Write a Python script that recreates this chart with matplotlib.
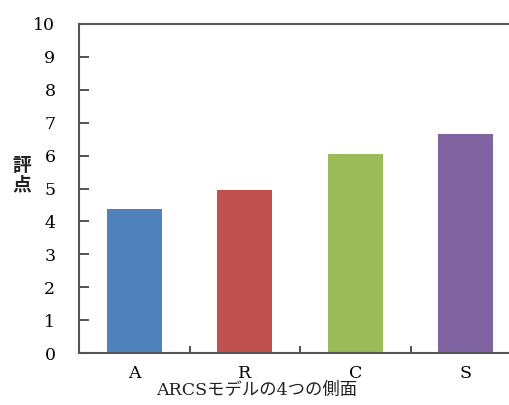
import matplotlib
matplotlib.use("Agg")
import matplotlib.pyplot as plt
from matplotlib.ticker import FixedLocator

categories = ["A", "R", "C", "S"]
values = [4.38, 4.96, 6.05, 6.66]
colors = ["#4F81BD", "#C0504D", "#9BBB59", "#8064A2"]
yticks = list(range(0, 11))
ylabel = "評点"
xlabel = "ARCSモデルの4つの側面"

W, H = 509, 405
fig = plt.figure(figsize=(W / 100, H / 100), dpi=100)
left, right, top, bottom = 79, 521, 24, 353
ax = fig.add_axes([left / W, 1 - bottom / H, (right - left) / W, (bottom - top) / H])

x = list(range(len(categories)))
ax.bar(x, values, width=0.5, color=colors, zorder=2)
ax.set_xlim(-0.5, len(categories) - 0.5)
ax.set_ylim(0, 10)

serif = ["DejaVu Serif", "Noto Sans CJK JP"]
ax.set_yticks(yticks)
ax.set_yticklabels([str(t) for t in yticks], family=serif, fontsize=12.5)
ax.set_xticks(x)
ax.set_xticklabels(categories, family=serif, fontsize=12.5)
ax.xaxis.set_minor_locator(FixedLocator([0.5, 1.5, 2.5]))
ax.tick_params(axis="x", which="major", length=0, pad=9)
ax.tick_params(axis="x", which="minor", direction="in", length=5, width=1.2, color="#333333")
ax.tick_params(axis="y", direction="in", length=7, width=1.2, color="#333333", pad=17)

for s in ax.spines.values():
    s.set_color("#555555")
    s.set_linewidth(1.5)

fig.text(22 / W, 1 - 175 / H, "\n".join(ylabel), family=["Noto Sans CJK JP"], fontsize=13.5,
         fontweight="bold", ha="center", va="center", linespacing=1.0, color="#222222")
fig.text(257 / W, 1 - 390 / H, xlabel, family=serif, fontsize=12.5, ha="center", va="center",
         color="#222222")

fig.savefig("out.png", dpi=100)
